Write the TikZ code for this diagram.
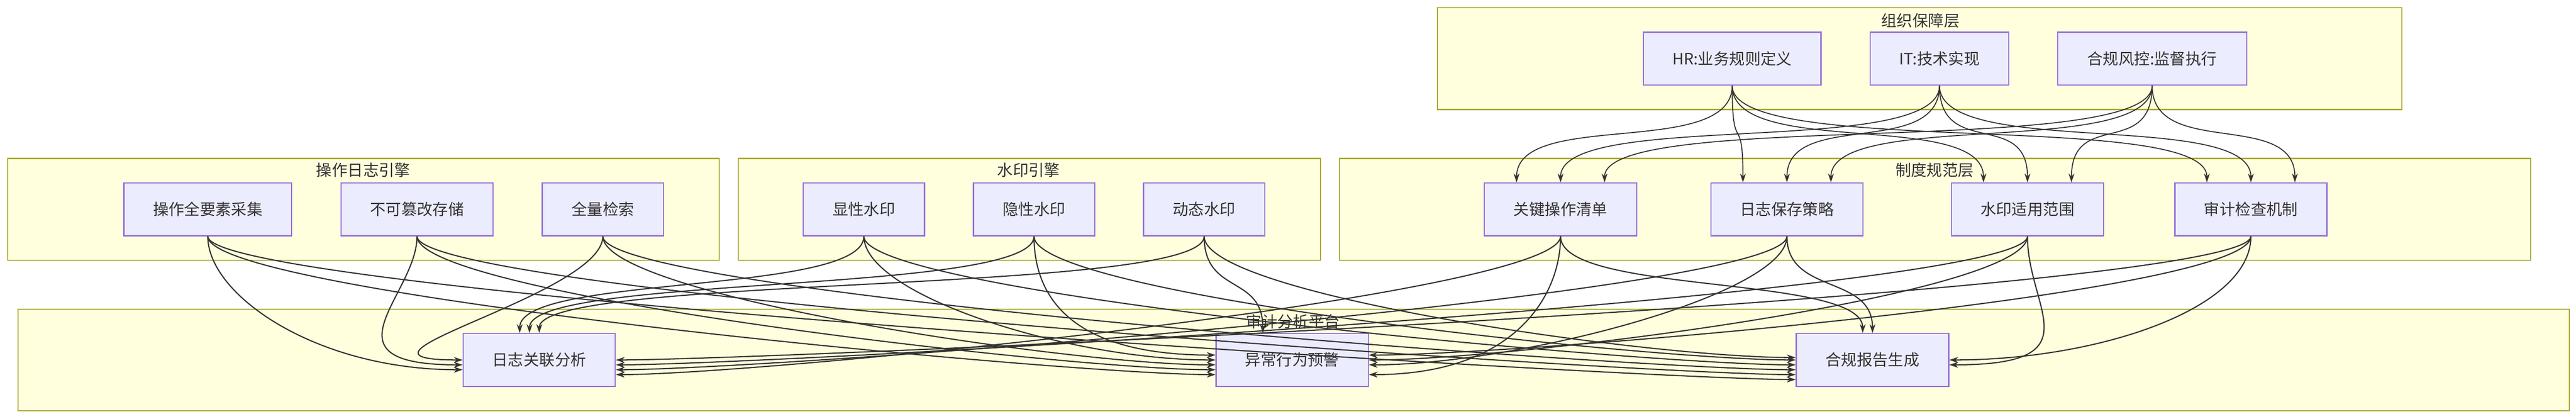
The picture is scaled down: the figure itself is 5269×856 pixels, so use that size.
\documentclass[tikz,border=0pt]{standalone}
\usepackage{fontspec}
\setmainfont{Noto Sans CJK SC}
\usetikzlibrary{arrows.meta}
\definecolor{nfill}{HTML}{ECECFF}
\definecolor{ndraw}{HTML}{9370DB}
\definecolor{cfill}{HTML}{FFFFDE}
\definecolor{cdraw}{HTML}{AAAA33}
\definecolor{ln}{HTML}{333333}
\begin{document}
\begin{tikzpicture}[x=0.25pt,y=-0.25pt,
  nd/.style={draw=ndraw,fill=nfill,line width=0.6pt,inner sep=0pt,minimum height=27pt,font=\fontsize{8}{9}\selectfont,text=ln},
  w/.style={minimum width=#1*0.25pt},
  cl/.style={draw=cdraw,fill=cfill,line width=0.6pt},
  ct/.style={font=\fontsize{8}{9}\selectfont,text=ln},
  ar/.style={draw=ln,line width=0.6pt,-{Stealth[length=4.5pt,width=3pt]}}]
\useasboundingbox (0,0) rectangle (5269,856);
% clusters
\draw[cl] (2940,16) rectangle (4913,224);
\node[ct] (to) at (3928,42) {组织保障层};
\draw[cl] (16,324) rectangle (1471,532);
\node[ct] (ta) at (743,348) {操作日志引擎};
\draw[cl] (1510,324) rectangle (2701,532);
\node[ct] (tb) at (2104,348) {水印引擎};
\draw[cl] (2740,324) rectangle (5176,532);
\node[ct] (tc) at (3957,348) {制度规范层};
\draw[cl] (37,632) rectangle (5255,840);
\node[ct] (td) at (2645,657) {审计分析平台};
% nodes
\node[nd,w=363] (o1) at (3543,120) {HR:业务规则定义};
\node[nd,w=283] (o2) at (3967,120) {IT:技术实现};
\node[nd,w=387] (o3) at (4402,120) {合规风控:监督执行};
\node[nd,w=343] (a1) at (425,428) {操作全要素采集};
\node[nd,w=311] (a2) at (853,428) {不可篡改存储};
\node[nd,w=248] (a3) at (1233,428) {全量检索};
\node[nd,w=248] (b1) at (1767,428) {显性水印};
\node[nd,w=248] (b2) at (2115,428) {隐性水印};
\node[nd,w=248] (b3) at (2463,428) {动态水印};
\node[nd,w=312] (c1) at (3192,428) {关键操作清单};
\node[nd,w=311] (c2) at (3655,428) {日志保存策略};
\node[nd,w=311] (c3) at (4147,428) {水印适用范围};
\node[nd,w=311] (c4) at (4604,428) {审计检查机制};
\node[nd,w=311] (d1) at (1103,736) {日志关联分析};
\node[nd,w=311] (d2) at (2643,736) {异常行为预警};
\node[nd,w=312] (d3) at (3830,736) {合规报告生成};
% org -> rules
\foreach \s/\dx in {o1/-90,o2/0,o3/90}
  \foreach \t in {c1,c2,c3,c4}
    \draw[ar,line width=0.5pt] (\s.south) .. controls +(0,150) and +(0,-150) .. ([xshift=\dx*0.25pt]\t.north);
% to d1
\foreach \s/\dy in {a1/-20,a2/-10,a3/0}
  \draw[ar] (\s.south) .. controls +(0,120) and +(-300,0) .. ([yshift=\dy*0.25pt]d1.west);
\foreach \s/\dx in {b1/-40,b2/-20,b3/0}
  \draw[ar] (\s.south) .. controls +(0,120) and +(0,-120) .. ([xshift=\dx*0.25pt]d1.north);
\foreach \s/\dy in {c1/-30,c2/-20,c3/-10,c4/0}
  \draw[ar] (\s.south) .. controls +(0,120) and +(300,0) .. ([yshift=\dy*0.25pt]d1.east);
% to d2
\foreach \s/\dy in {a1/-30,a2/-20,a3/-10,b1/0,b2/10}
  \draw[ar] (\s.south) .. controls +(0,120) and +(-300,0) .. ([yshift=\dy*0.25pt]d2.west);
\draw[ar] (b3.south) .. controls +(0,120) and +(0,-120) .. ([xshift=-15pt]d2.north);
\foreach \s/\dy in {c1/-30,c2/-10,c3/0,c4/10}
  \draw[ar] (\s.south) .. controls +(0,120) and +(300,0) .. ([yshift=\dy*0.25pt]d2.east);
% to d3
\foreach \s/\dy in {a1/-40,a2/-30,a3/-20,b1/-10,b2/0,b3/5}
  \draw[ar] (\s.south) .. controls +(0,120) and +(-300,0) .. ([yshift=\dy*0.25pt]d3.west);
\foreach \s/\dx in {c1/-20,c2/0}
  \draw[ar] (\s.south) .. controls +(0,120) and +(0,-120) .. ([xshift=\dx*0.25pt]d3.north);
\foreach \s/\dy in {c3/-10,c4/0}
  \draw[ar] (\s.south) .. controls +(0,150) and +(300,0) .. ([yshift=\dy*0.25pt]d3.east);
\end{tikzpicture}
\end{document}
